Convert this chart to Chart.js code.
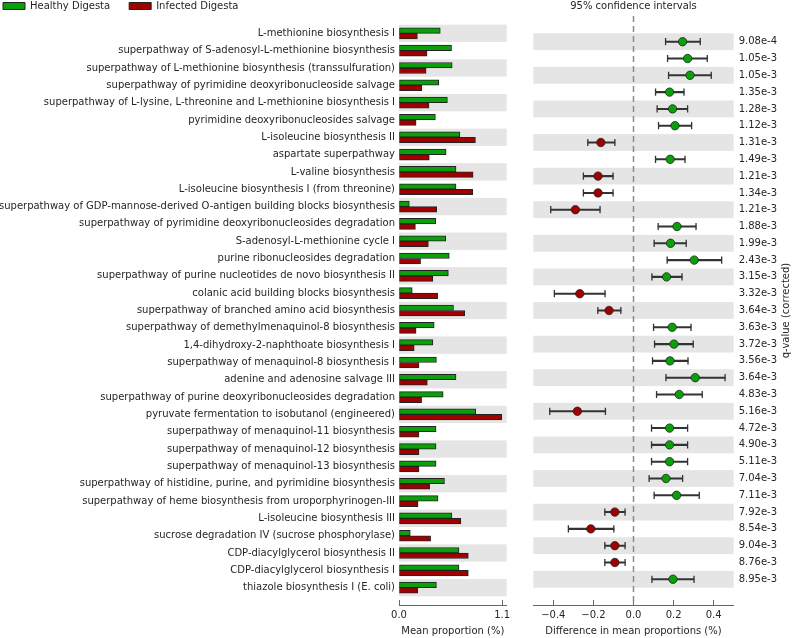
<!DOCTYPE html>
<html lang="en">
<head>
  <meta charset="UTF-8">
  <title>Healthy vs Infected Digesta - extended error bar plot</title>
  <script src="https://cdn.jsdelivr.net/npm/chart.js"></script>
  <style>
    body { margin: 0; background: #fff; }
    #wrap { position: relative; width: 793px; height: 638px; }
    canvas { position: absolute; top: 0; }
    #meanChart { left: 0; }
    #diffChart { left: 520px; }
  </style>
</head>
<body>
  <div id="wrap">
    <canvas id="meanChart" width="520" height="638"></canvas>
    <canvas id="diffChart" width="273" height="638"></canvas>
  </div>

  <script>
    const pathways = [
      "L-methionine biosynthesis I",
      "superpathway of S-adenosyl-L-methionine biosynthesis",
      "superpathway of L-methionine biosynthesis (transsulfuration)",
      "superpathway of pyrimidine deoxyribonucleoside salvage",
      "superpathway of L-lysine, L-threonine and L-methionine biosynthesis I",
      "pyrimidine deoxyribonucleosides salvage",
      "L-isoleucine biosynthesis II",
      "aspartate superpathway",
      "L-valine biosynthesis",
      "L-isoleucine biosynthesis I (from threonine)",
      "superpathway of GDP-mannose-derived O-antigen building blocks biosynthesis",
      "superpathway of pyrimidine deoxyribonucleosides degradation",
      "S-adenosyl-L-methionine cycle I",
      "purine ribonucleosides degradation",
      "superpathway of purine nucleotides de novo biosynthesis II",
      "colanic acid building blocks biosynthesis",
      "superpathway of branched amino acid biosynthesis",
      "superpathway of demethylmenaquinol-8 biosynthesis",
      "1,4-dihydroxy-2-naphthoate biosynthesis I",
      "superpathway of menaquinol-8 biosynthesis I",
      "adenine and adenosine salvage III",
      "superpathway of purine deoxyribonucleosides degradation",
      "pyruvate fermentation to isobutanol (engineered)",
      "superpathway of menaquinol-11 biosynthesis",
      "superpathway of menaquinol-12 biosynthesis",
      "superpathway of menaquinol-13 biosynthesis",
      "superpathway of histidine, purine, and pyrimidine biosynthesis",
      "superpathway of heme biosynthesis from uroporphyrinogen-III",
      "L-isoleucine biosynthesis III",
      "sucrose degradation IV (sucrose phosphorylase)",
      "CDP-diacylglycerol biosynthesis II",
      "CDP-diacylglycerol biosynthesis I",
      "thiazole biosynthesis I (E. coli)"
    ];

    // mean proportion (%)
    const healthy = [0.44, 0.56, 0.567, 0.423, 0.516, 0.388, 0.65, 0.502, 0.608, 0.608, 0.11,
      0.392, 0.498, 0.536, 0.526, 0.141, 0.581, 0.375, 0.361, 0.399, 0.608, 0.471,
      0.818, 0.395, 0.395, 0.395, 0.485, 0.416, 0.564, 0.12, 0.639, 0.639, 0.399];
    const infected = [0.196, 0.299, 0.289, 0.244, 0.32, 0.182, 0.815, 0.323, 0.79, 0.787, 0.402,
      0.175, 0.313, 0.23, 0.361, 0.412, 0.701, 0.182, 0.162, 0.213, 0.302, 0.241,
      1.097, 0.213, 0.213, 0.213, 0.327, 0.203, 0.66, 0.337, 0.739, 0.739, 0.199];

    // difference in mean proportions + 95% CI
    const meanDiff = [0.245, 0.27, 0.282, 0.18, 0.195, 0.207, -0.163, 0.183, -0.177, -0.177, -0.29,
      0.217, 0.185, 0.303, 0.165, -0.268, -0.122, 0.193, 0.202, 0.182, 0.308, 0.228,
      -0.28, 0.18, 0.18, 0.18, 0.162, 0.215, -0.093, -0.213, -0.093, -0.093, 0.197];
    const ciLow = [0.16, 0.17, 0.175, 0.11, 0.118, 0.125, -0.228, 0.11, -0.25, -0.25, -0.413,
      0.123, 0.103, 0.168, 0.092, -0.395, -0.178, 0.1, 0.105, 0.095, 0.162, 0.115,
      -0.418, 0.09, 0.09, 0.09, 0.078, 0.103, -0.143, -0.325, -0.143, -0.143, 0.092];
    const ciHigh = [0.333, 0.368, 0.388, 0.252, 0.27, 0.29, -0.093, 0.257, -0.102, -0.102, -0.167,
      0.312, 0.263, 0.44, 0.242, -0.142, -0.063, 0.287, 0.298, 0.272, 0.457, 0.343,
      -0.14, 0.27, 0.27, 0.27, 0.245, 0.328, -0.042, -0.098, -0.042, -0.042, 0.302];

    const qValues = ["9.08e-4", "1.05e-3", "1.05e-3", "1.35e-3", "1.28e-3", "1.12e-3", "1.31e-3",
      "1.49e-3", "1.21e-3", "1.34e-3", "1.21e-3", "1.88e-3", "1.99e-3", "2.43e-3", "3.15e-3",
      "3.32e-3", "3.64e-3", "3.63e-3", "3.72e-3", "3.56e-3", "3.64e-3", "4.83e-3", "5.16e-3",
      "4.72e-3", "4.90e-3", "5.11e-3", "7.04e-3", "7.11e-3", "7.92e-3", "8.54e-3", "9.04e-3",
      "8.76e-3", "8.95e-3"];

    const meanTicks = [0, 1.1];
    const diffTicks = [-0.4, -0.2, 0, 0.2, 0.4];

    const GREEN = "#0aa00a";
    const RED = "#a00000";
    const TEXT = "#262626";
    const AXIS = "#666";

    Chart.defaults.font.family = "'DejaVu Sans', sans-serif";
    Chart.defaults.font.size = 10;
    Chart.defaults.color = TEXT;

    const rowTicks = s => { s.ticks = pathways.map((_, i) => ({ value: i })); };
    const fmtTick = v => (v < 0 ? "\u2212" : "") + Math.abs(v).toFixed(1);

    // grey band behind every other row
    const rowBands = {
      id: "rowBands",
      beforeDatasetsDraw(chart) {
        const { ctx, chartArea: a, scales: { y } } = chart;
        ctx.save();
        ctx.fillStyle = "#e5e5e5";
        pathways.forEach((_, i) => {
          if (i % 2) return;
          const t = y.getPixelForValue(i - 0.5);
          const b = y.getPixelForValue(i + 0.5);
          ctx.fillRect(a.left, Math.min(t, b), a.right - a.left, Math.abs(b - t));
        });
        ctx.restore();
      }
    };

    // dashed line at zero difference
    const zeroLine = {
      id: "zeroLine",
      beforeDatasetsDraw(chart) {
        const { ctx, chartArea: a, scales: { x } } = chart;
        const px = x.getPixelForValue(0);
        ctx.save();
        ctx.strokeStyle = "#8a8a8a";
        ctx.lineWidth = 1.5;
        ctx.setLineDash([6, 4]);
        ctx.beginPath();
        ctx.moveTo(px, a.top);
        ctx.lineTo(px, a.bottom);
        ctx.stroke();
        ctx.restore();
      }
    };

    // rotated q-value title (reads bottom to top)
    const qTitle = {
      id: "qTitle",
      afterDraw(chart) {
        const { ctx, chartArea: a } = chart;
        ctx.save();
        ctx.translate(266.7, (a.top + a.bottom) / 2);
        ctx.rotate(-Math.PI / 2);
        ctx.font = "10px 'DejaVu Sans', sans-serif";
        ctx.fillStyle = TEXT;
        ctx.textAlign = "center";
        ctx.textBaseline = "middle";
        ctx.fillText("q-value (corrected)", 0, 0);
        ctx.restore();
      }
    };

    // left: mean proportions
    new Chart(document.getElementById("meanChart"), {
      type: "bar",
      data: {
        datasets: [
          {
            label: "Healthy Digesta",
            data: healthy.map((v, i) => ({ x: v, y: i })),
            backgroundColor: GREEN,
            borderColor: "#222",
            borderWidth: 1,
            borderSkipped: false,
            barThickness: 5.5
          },
          {
            label: "Infected Digesta",
            data: infected.map((v, i) => ({ x: v, y: i })),
            backgroundColor: RED,
            borderColor: "#222",
            borderWidth: 1,
            borderSkipped: false,
            barThickness: 5.5
          }
        ]
      },
      options: {
        indexAxis: "y",
        responsive: false,
        animation: false,
        layout: { padding: { left: -16, top: -18, right: 9, bottom: 0 } },
        plugins: {
          legend: {
            position: "top",
            align: "start",
            maxHeight: 34,
            labels: { boxWidth: 22, boxHeight: 7, padding: 19, color: TEXT, font: { size: 10 } }
          },
          tooltip: { enabled: false }
        },
        scales: {
          x: {
            type: "linear",
            min: 0,
            max: 1.148,
            afterBuildTicks: s => { s.ticks = meanTicks.map(v => ({ value: v })); },
            afterFit: s => { s.height = 33; },
            ticks: { padding: 9.5, callback: v => fmtTick(v) },
            grid: { drawOnChartArea: false, tickLength: -5, color: AXIS },
            border: { color: AXIS },
            title: { display: true, text: "Mean proportion (%)", padding: { top: 0, bottom: 1 } }
          },
          y: {
            type: "linear",
            reverse: true,
            min: -1,
            max: 33,
            offset: false,
            afterBuildTicks: rowTicks,
            afterFit: s => { s.width = 415; },
            ticks: { autoSkip: false, padding: 4, callback: v => pathways[v] },
            grid: { display: false, drawTicks: false },
            border: { display: false }
          }
        }
      },
      plugins: [rowBands]
    });

    // right: difference in mean proportions with 95% CI
    new Chart(document.getElementById("diffChart"), {
      type: "scatter",
      data: {
        datasets: [
          {
            label: "difference",
            data: meanDiff.map((v, i) => ({ x: v, y: i })),
            pointRadius: 4.2,
            pointBackgroundColor: meanDiff.map(v => (v > 0 ? GREEN : RED)),
            pointBorderColor: "#222",
            pointBorderWidth: 0.8,
            order: 0
          },
          {
            label: "ci caps",
            data: ciLow.map((v, i) => ({ x: v, y: i })).concat(ciHigh.map((v, i) => ({ x: v, y: i }))),
            pointStyle: "line",
            pointRotation: 90,
            pointRadius: 3.6,
            pointBorderColor: "#333",
            pointBorderWidth: 1.3,
            order: 1
          },
          {
            type: "bar",
            label: "ci",
            indexAxis: "y",
            data: ciLow.map((v, i) => ({ x: [v, ciHigh[i]], y: i })),
            backgroundColor: "#333",
            borderWidth: 0,
            barThickness: 1.4,
            order: 2
          }
        ]
      },
      options: {
        responsive: false,
        animation: false,
        layout: { padding: { left: 13.3, top: 0, right: 0, bottom: 0 } },
        plugins: {
          legend: { display: false },
          tooltip: { enabled: false },
          title: {
            display: true,
            text: "95% confidence intervals",
            fullSize: false,
            color: TEXT,
            font: { size: 10, weight: "normal" },
            padding: { top: 0, bottom: 4 }
          }
        },
        scales: {
          x: {
            type: "linear",
            min: -0.5,
            max: 0.5,
            afterBuildTicks: s => { s.ticks = diffTicks.map(v => ({ value: v })); },
            afterFit: s => { s.height = 33; },
            ticks: { padding: 9.5, callback: v => fmtTick(v) },
            grid: { drawOnChartArea: false, tickLength: -5, color: AXIS },
            border: { color: AXIS },
            title: { display: true, text: "Difference in mean proportions (%)", padding: { top: 0, bottom: 1 } }
          },
          y: {
            type: "linear",
            position: "right",
            reverse: true,
            min: -1,
            max: 33,
            afterBuildTicks: rowTicks,
            afterFit: s => { s.width = 59.3; },
            ticks: { autoSkip: false, padding: 5, callback: v => qValues[v] },
            grid: { display: false, drawTicks: false },
            border: { display: false }
          }
        }
      },
      plugins: [rowBands, zeroLine, qTitle]
    });
  </script>
</body>
</html>
